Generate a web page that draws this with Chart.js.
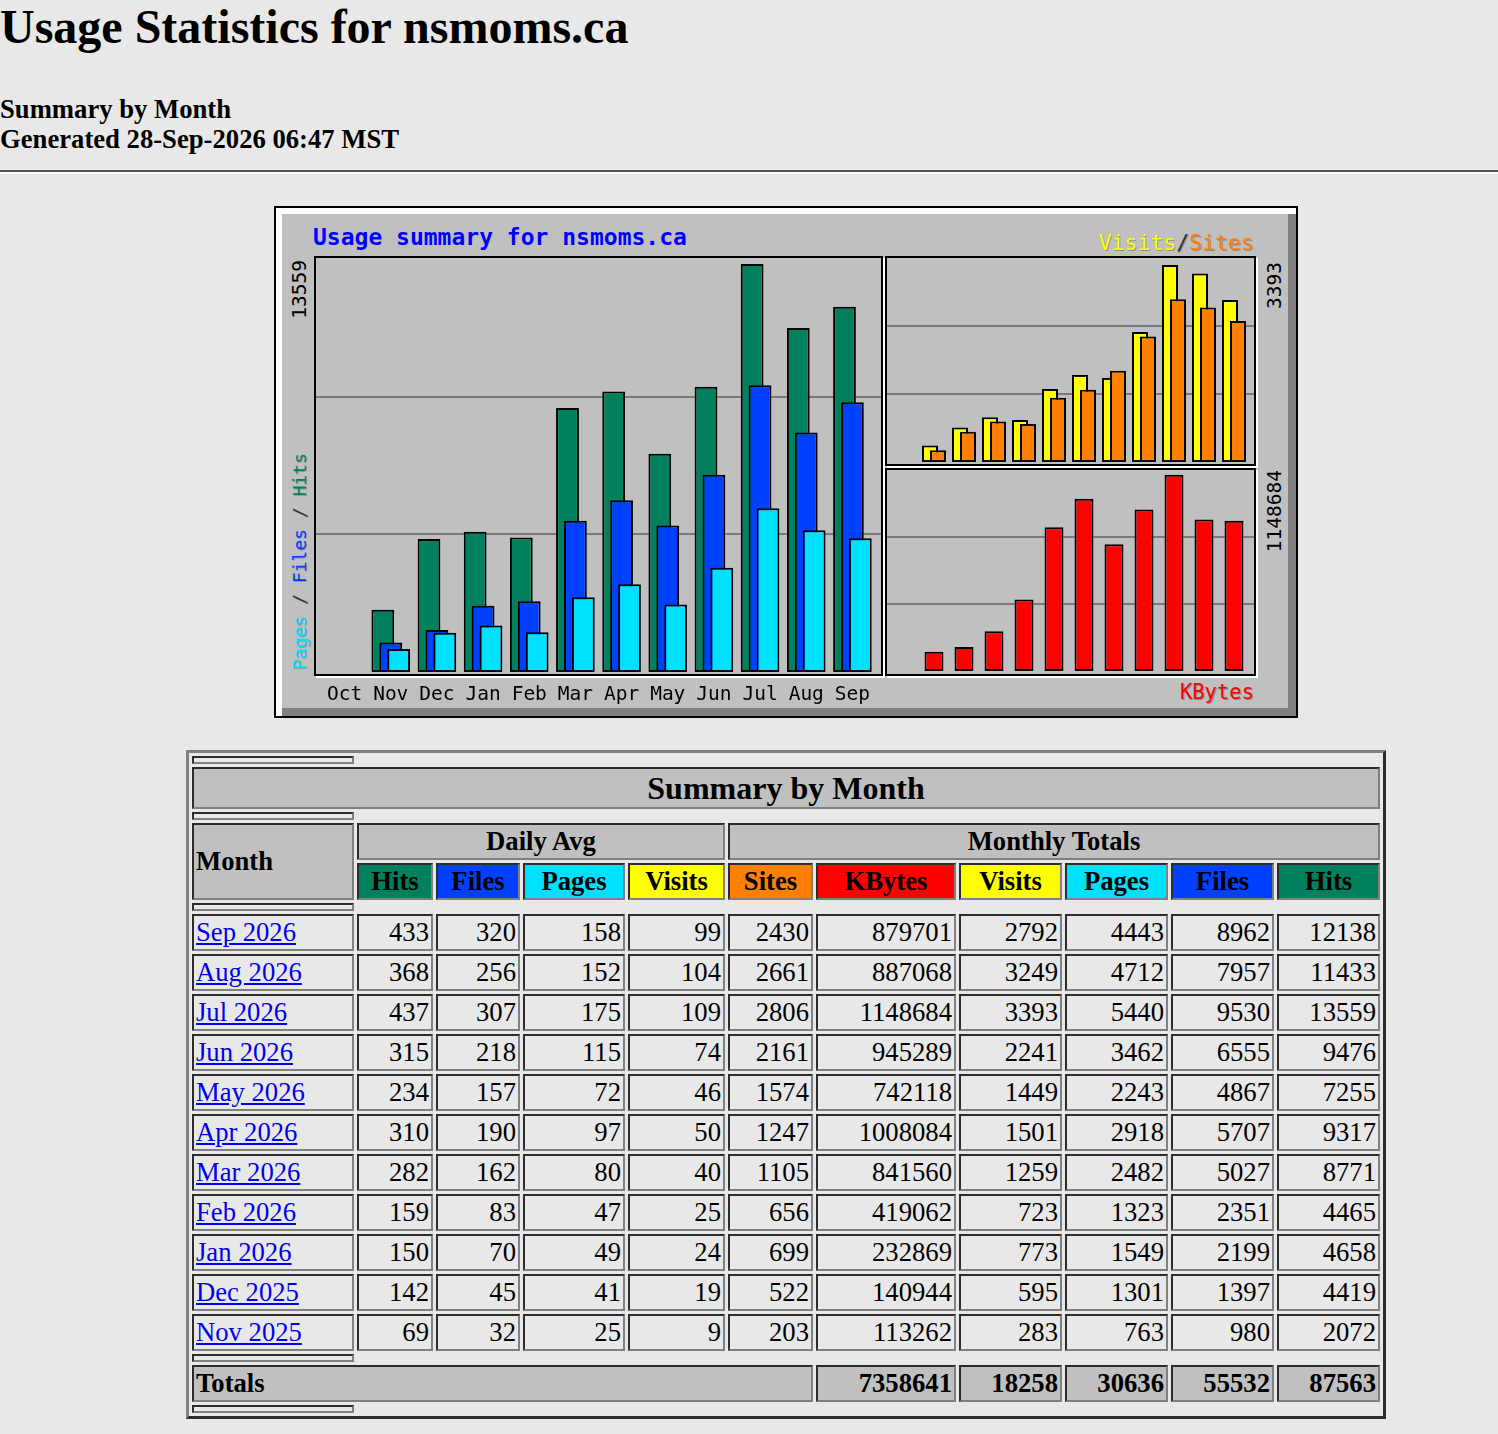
<!DOCTYPE html>
<html>
<head>
<meta charset="utf-8">
<title>Usage Statistics for nsmoms.ca</title>
<script src="https://cdn.jsdelivr.net/npm/chart.js@4.4.1/dist/chart.umd.min.js"></script>
<style>
html, body { margin: 0; background: #E8E8E8; }
body { position: relative; width: 1498px; height: 1434px; overflow: hidden;
       font-family: "Liberation Serif", "Times New Roman", serif; color: #000; }
h2 { position: absolute; left: 0; top: 0; margin: 0; font-size: 48px; line-height: 53px;
     font-weight: bold; white-space: nowrap; }
.sub { position: absolute; left: 0; top: 94px; font-size: 26.67px; line-height: 30px; font-weight: bold; }
hr { position: absolute; left: 0; top: 170px; width: 1600px; margin: 0; height: 0; border: 0;
     border-top: 2px solid #555; border-bottom: 2px solid #fafafa; }

/* the usage graph image */
#graph { position: absolute; left: 274px; top: 206px; width: 1024px; height: 512px; background: #C0C0C0;
         box-shadow: inset 0 0 0 2px #000, inset 8px 8px 0 #fff, inset -10px -10px 0 #808080;
         font-family: "DejaVu Sans Mono", monospace; }
#graph .panel { position: absolute; box-sizing: border-box; border: 2px solid #000; box-shadow: 2px 2px 0 #fff; }
#graph canvas { position: absolute; }
#graph .lbl { position: absolute; white-space: nowrap; }
#graph .up { position: absolute; writing-mode: vertical-rl; transform: rotate(180deg); white-space: nowrap; }
.gtitle { left: 39px; top: 20px; font-size: 23px; line-height: 23px; font-weight: bold; color: #0000FF; }
.legend { right: 44px; text-shadow: 1px 1px 0 #8a8a8a; }

/* summary table */
#summary { position: absolute; left: 186px; top: 750px; width: 1200px; table-layout: fixed;
           border: 3px outset #808080; border-spacing: 3px; font-size: 26.67px; line-height: 29px; }
#summary td, #summary th { border: 2px inset #808080; padding: 2px; white-space: nowrap; overflow: hidden; }
#summary tr.sp th { height: 0; line-height: 0; padding: 2px; }
#summary th.big { background: #C0C0C0; font-size: 32px; line-height: 34px; text-align: center; }
#summary th.g { background: #C0C0C0; }
#summary td { text-align: right; }
#summary td.m { text-align: left; }
#summary a { color: #0000EE; }
</style>
</head>
<body>

<h2>Usage Statistics for nsmoms.ca</h2>
<div class="sub">Summary by Month<br>Generated 28-Sep-2026 06:47 MST</div>
<hr>

<div id="graph">
  <div class="lbl gtitle">Usage summary for nsmoms.ca</div>
  <div class="lbl legend" style="top:26px;font-size:21.5px;line-height:21px"><span style="color:#FFFF00">Visits</span><span style="color:#303030">/</span><span style="color:#FF8000">Sites</span></div>
  <div class="lbl legend" style="top:476px;font-size:20.5px;line-height:20px;color:#FF0000">KBytes</div>

  <div class="up" id="maxHits" style="left:16px;top:54px;font-size:19.5px;line-height:19px;color:#000"></div>
  <div class="up" style="left:16px;top:247px;font-size:18px;line-height:19px;text-shadow:-1px 1px 0 #9a9a9a"><span style="color:#00E0FF">Pages</span><span style="color:#303030"> / </span><span style="color:#0040FF">Files</span><span style="color:#303030"> / </span><span style="color:#00805C">Hits</span></div>
  <div class="up" id="maxVisits" style="left:991px;top:56px;font-size:19.5px;line-height:19px;color:#000"></div>
  <div class="up" id="maxKbytes" style="left:991px;top:264px;font-size:19.5px;line-height:19px;color:#000"></div>

  <div class="panel" style="left:40px;top:50px;width:569px;height:420px"></div>
  <div class="panel" style="left:611px;top:50px;width:371px;height:210px"></div>
  <div class="panel" style="left:611px;top:262px;width:371px;height:208px"></div>

  <canvas id="mainChart" width="565" height="448" style="left:42px;top:52px"></canvas>
  <canvas id="visitChart" width="367" height="206" style="left:613px;top:52px"></canvas>
  <canvas id="kbyteChart" width="367" height="204" style="left:613px;top:264px"></canvas>
</div>

<table id="summary">
  <colgroup>
    <col style="width:162px"><col style="width:76px"><col style="width:84px"><col style="width:102px">
    <col style="width:97px"><col style="width:85px"><col style="width:140px"><col style="width:103px">
    <col style="width:103px"><col style="width:103px"><col style="width:103px">
  </colgroup>
  <tbody id="summaryBody"></tbody>
</table>

<script>
// months shown on the graph (Oct 2025 .. Sep 2026)
const months = ['Oct', 'Nov', 'Dec', 'Jan', 'Feb', 'Mar', 'Apr', 'May', 'Jun', 'Jul', 'Aug', 'Sep'];

// monthly totals, same order (no data for Oct)
const hits   = [null, 2072, 4419, 4658, 4465, 8771, 9317, 7255, 9476, 13559, 11433, 12138];
const files  = [null, 980, 1397, 2199, 2351, 5027, 5707, 4867, 6555, 9530, 7957, 8962];
const pages  = [null, 763, 1301, 1549, 1323, 2482, 2918, 2243, 3462, 5440, 4712, 4443];
const visits = [null, 283, 595, 773, 723, 1259, 1501, 1449, 2241, 3393, 3249, 2792];
const sites  = [null, 203, 522, 699, 656, 1105, 1247, 1574, 2161, 2806, 2661, 2430];
const kbytes = [null, 113262, 140944, 232869, 419062, 841560, 1008084, 742118, 945289, 1148684, 887068, 879701];

// summary table rows, newest first
const tableMonths = ['Sep 2026', 'Aug 2026', 'Jul 2026', 'Jun 2026', 'May 2026', 'Apr 2026',
                     'Mar 2026', 'Feb 2026', 'Jan 2026', 'Dec 2025', 'Nov 2025'];
const avgHits   = [433, 368, 437, 315, 234, 310, 282, 159, 150, 142, 69];
const avgFiles  = [320, 256, 307, 218, 157, 190, 162, 83, 70, 45, 32];
const avgPages  = [158, 152, 175, 115, 72, 97, 80, 47, 49, 41, 25];
const avgVisits = [99, 104, 109, 74, 46, 50, 40, 25, 24, 19, 9];

const COLORS = {
    hits: '#00805C', files: '#0040FF', pages: '#00E0FF',
    visits: '#FFFF00', sites: '#FF8000', kbytes: '#FF0000'
};

const maxOf = arr => Math.max(...arr.filter(v => v !== null));

// rotated max values beside the panels
document.getElementById('maxHits').textContent = maxOf(hits);
document.getElementById('maxVisits').textContent = maxOf(visits);
document.getElementById('maxKbytes').textContent = maxOf(kbytes);

Chart.defaults.font.family = '"DejaVu Sans Mono", monospace';

// webalizer style: two grid lines at 1/3 and 2/3 of the panel, and the
// first dataset drawn at the back (chart.js normally puts it on top)
const webalizerLook = {
    id: 'webalizerLook',
    beforeDatasetsDraw(chart) {
        const { ctx, scales: { y } } = chart;
        ctx.save();
        ctx.strokeStyle = '#7a7a7a';
        ctx.lineWidth = 2;
        [1, 2].forEach(k => {
            const py = Math.round(y.getPixelForValue(y.max * k / 3));
            ctx.beginPath();
            ctx.moveTo(0, py);
            ctx.lineTo(chart.width, py);
            ctx.stroke();
        });
        ctx.restore();

        chart.data.datasets.forEach((ds, i) => chart.getDatasetMeta(i).controller.draw());
        return false;
    }
};

function barSet(data, color) {
    return {
        data: data,
        backgroundColor: color,
        borderColor: '#000',
        borderWidth: 2,
        borderSkipped: false
    };
}

function makeChart(id, datasets, opts) {
    return new Chart(document.getElementById(id), {
        type: 'bar',
        data: { labels: months, datasets: datasets },
        options: {
            responsive: false,
            animation: false,
            events: [],
            layout: { padding: opts.padding },
            datasets: { bar: { categoryPercentage: opts.catPct, barPercentage: opts.barPct } },
            plugins: { legend: { display: false }, tooltip: { enabled: false } },
            scales: {
                x: opts.xAxis || { display: false },
                y: { display: false, min: 0, max: opts.yMax }
            }
        },
        plugins: [webalizerLook]
    });
}

// hits / files / pages
makeChart('mainChart', [
    barSet(hits, COLORS.hits),
    barSet(files, COLORS.files),
    barSet(pages, COLORS.pages)
], {
    padding: { left: 5, right: 0, top: 1, bottom: 0 },
    catPct: 0.515, barPct: 2.875,
    yMax: maxOf(hits) * 1.012,
    xAxis: {
        grid: { display: false, drawTicks: false },
        border: { display: false },
        ticks: { color: '#000', font: { size: 19.5 }, padding: 11, maxRotation: 0, autoSkip: false },
        afterFit(axis) { axis.height = 34; }
    }
});

// visits / sites
makeChart('visitChart', [
    barSet(visits, COLORS.visits),
    barSet(sites, COLORS.sites)
], {
    padding: { left: 2, right: 5, top: 0, bottom: 2 },
    catPct: 0.533, barPct: 2,
    yMax: maxOf(visits) * 1.036
});

// kbytes
makeChart('kbyteChart', [
    barSet(kbytes, COLORS.kbytes)
], {
    padding: { left: 2, right: 5, top: 0, bottom: 3 },
    catPct: 0.633, barPct: 1,
    yMax: maxOf(kbytes) * 1.024
});

// summary table
function buildTable() {
    const body = document.getElementById('summaryBody');
    const sum = arr => arr.reduce((a, v) => a + (v || 0), 0);
    const spacer = '<tr class="sp"><th></th></tr>';
    let html = '';
    html += spacer;
    html += '<tr><th colspan="11" class="big">Summary by Month</th></tr>';
    html += spacer;
    html += '<tr><th rowspan="2" class="g" style="text-align:left">Month</th>' +
            '<th colspan="4" class="g">Daily Avg</th>' +
            '<th colspan="6" class="g">Monthly Totals</th></tr>';
    const heads = [['Hits', 'hits'], ['Files', 'files'], ['Pages', 'pages'], ['Visits', 'visits'],
                   ['Sites', 'sites'], ['KBytes', 'kbytes'], ['Visits', 'visits'], ['Pages', 'pages'],
                   ['Files', 'files'], ['Hits', 'hits']];
    html += '<tr>' + heads.map(h => `<th style="background:${COLORS[h[1]]}">${h[0]}</th>`).join('') + '</tr>';
    html += spacer;

    tableMonths.forEach((name, i) => {
        const k = months.length - 1 - i;   // matching index in the graph arrays
        const cells = [avgHits[i], avgFiles[i], avgPages[i], avgVisits[i],
                       sites[k], kbytes[k], visits[k], pages[k], files[k], hits[k]];
        html += `<tr><td class="m"><a href="#">${name}</a></td>` +
                cells.map(v => `<td>${v}</td>`).join('') + '</tr>';
    });

    html += spacer;
    html += '<tr><th colspan="6" class="g" style="text-align:left">Totals</th>' +
            [kbytes, visits, pages, files, hits].map(a => `<th class="g" style="text-align:right">${sum(a)}</th>`).join('') +
            '</tr>';
    html += spacer;
    body.innerHTML = html;
}
buildTable();
</script>
</body>
</html>
